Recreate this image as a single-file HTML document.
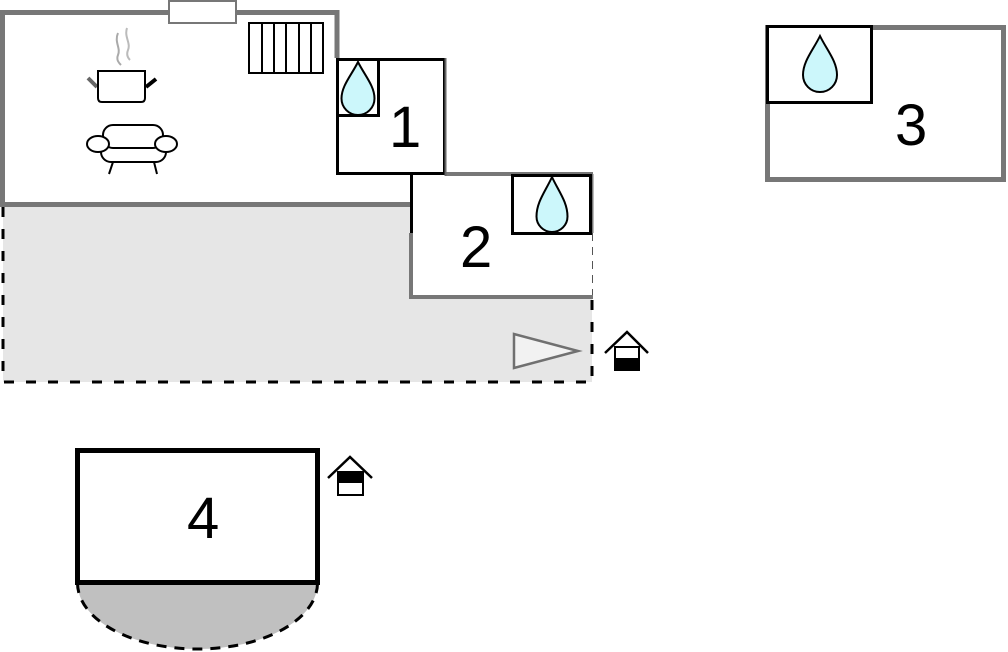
<!DOCTYPE html>
<html><head><meta charset="utf-8"><style>
html,body{margin:0;padding:0;background:#fff;}
svg{display:block;}
text{font-family:"Liberation Sans",Arial,sans-serif;font-size:58px;fill:#000;}
</style></head><body>
<svg width="1008" height="652" viewBox="0 0 1008 652" xmlns="http://www.w3.org/2000/svg">
<!-- terrace -->
<polygon points="3,207 411,207 411,297 592,297 592,382 3,382" fill="#e6e6e6"/>
<path d="M3,207 V382 H592 V297" fill="none" stroke="#000" stroke-width="3" stroke-dasharray="10 12"/>
<path d="M592,233 V297" fill="none" stroke="#555" stroke-width="2" stroke-dasharray="8 6"/>
<!-- triangle -->
<polygon points="514,334 514,368 578,351" fill="#f2f2f2" stroke="#707070" stroke-width="2.5"/>
<!-- main room -->
<rect x="2.5" y="12.5" width="335" height="192" fill="#fff"/>
<path d="M2.5,204.5 V12.5 H337 V58" fill="none" stroke="#777" stroke-width="5"/>
<path d="M0,204.5 H411" fill="none" stroke="#777" stroke-width="5"/>
<!-- window -->
<rect x="169" y="1" width="67" height="22" fill="#fff" stroke="#777" stroke-width="2"/>
<!-- stairs -->
<rect x="249" y="23" width="74" height="50" fill="#fff" stroke="#000" stroke-width="2"/>
<path d="M262,23V73M274,23V73M286,23V73M299,23V73M311,23V73" stroke="#000" stroke-width="2"/>
<!-- steam -->
<path d="M118,33 C114,42 121,48 118,55 C116,60 119,63 121,65" fill="none" stroke="#aaa" stroke-width="2"/>
<path d="M127,28 C124,37 131,43 128,50 C126,55 128,58 130,60" fill="none" stroke="#bbb" stroke-width="2"/>
<!-- pot -->
<path d="M88,78 L97,87" stroke="#666" stroke-width="4"/>
<path d="M146,87 L156,79" stroke="#000" stroke-width="4"/>
<path d="M98,71 H145 V98 Q145,102 141,102 H102 Q98,102 98,98 Z" fill="#fff" stroke="#000" stroke-width="2"/>
<!-- sofa -->
<rect x="101" y="140" width="65" height="22" rx="10" fill="#fff" stroke="#000" stroke-width="2"/>
<rect x="103" y="125" width="60" height="23" rx="10" fill="#fff" stroke="#000" stroke-width="2"/>
<ellipse cx="98" cy="144" rx="11" ry="8" fill="#fff" stroke="#000" stroke-width="2"/>
<ellipse cx="166" cy="144" rx="11" ry="8" fill="#fff" stroke="#000" stroke-width="2"/>
<path d="M113,162 L109,174 M154,162 L157,174" stroke="#000" stroke-width="2"/>
<!-- room 2 -->
<rect x="411" y="174" width="181" height="123" fill="#fff"/>
<path d="M446,174 H593 M411,233 V297 H593" fill="none" stroke="#777" stroke-width="4"/>
<path d="M592,174 V233" stroke="#777" stroke-width="3"/>
<path d="M411.5,174 V233" stroke="#000" stroke-width="3"/>
<rect x="512.5" y="175.5" width="78" height="58" fill="#fff" stroke="#000" stroke-width="3"/>
<path d="M552,177 C558.2,190.75 567.5,201.75 567.5,216.5 A15.5,15.5 0 0 1 536.5,216.5 C536.5,201.75 545.8,190.75 552,177Z" fill="#ccf7fb" stroke="#000" stroke-width="2"/>
<text x="460" y="267">2</text>
<!-- room 1 -->
<rect x="337.5" y="59.5" width="107" height="114" fill="#fff" stroke="#000" stroke-width="3"/>
<path d="M445.5,58 V176" stroke="#666" stroke-width="2"/>
<rect x="337.5" y="59.5" width="41" height="56" fill="#fff" stroke="#000" stroke-width="3"/>
<path d="M358,62 C364.6,75.25 374.5,85.85 374.5,98.5 A16.5,16.5 0 0 1 341.5,98.5 C341.5,85.85 351.4,75.25 358,62Z" fill="#ccf7fb" stroke="#000" stroke-width="2"/>
<text x="389" y="147">1</text>
<!-- house icon 1 -->
<path d="M605,353 L627,332 L648,353" fill="none" stroke="#000" stroke-width="2.5"/>
<rect x="615" y="347" width="24" height="23" fill="#fff" stroke="#000" stroke-width="2"/>
<rect x="615" y="358" width="24" height="12" fill="#000"/>
<!-- room 3 -->
<rect x="767.5" y="27.5" width="236" height="152" fill="#fff" stroke="#777" stroke-width="5"/>
<rect x="767.5" y="26.5" width="104" height="76" fill="#fff" stroke="#000" stroke-width="3"/>
<path d="M820,36 C826.8,50 837,61.2 837,75 A17,17 0 0 1 803,75 C803,61.2 813.2,50 820,36Z" fill="#ccf7fb" stroke="#000" stroke-width="2"/>
<text x="895" y="145">3</text>
<!-- room 4 -->
<path d="M77.5,583 A120,66 0 0 0 317.5,583 Z" fill="#c0c0c0"/>
<path d="M77.5,583 A120,66 0 0 0 317.5,583" fill="none" stroke="#000" stroke-width="3" stroke-dasharray="10 8"/>
<rect x="77.5" y="450.5" width="240" height="132" fill="#fff" stroke="#000" stroke-width="5"/>
<text x="187" y="538">4</text>
<!-- house icon 2 -->
<path d="M328,478 L350,457 L372,478" fill="none" stroke="#000" stroke-width="2.5"/>
<rect x="338" y="472" width="25" height="23" fill="#fff" stroke="#000" stroke-width="2"/>
<rect x="338" y="472" width="25" height="11" fill="#000"/>
</svg>
</body></html>
